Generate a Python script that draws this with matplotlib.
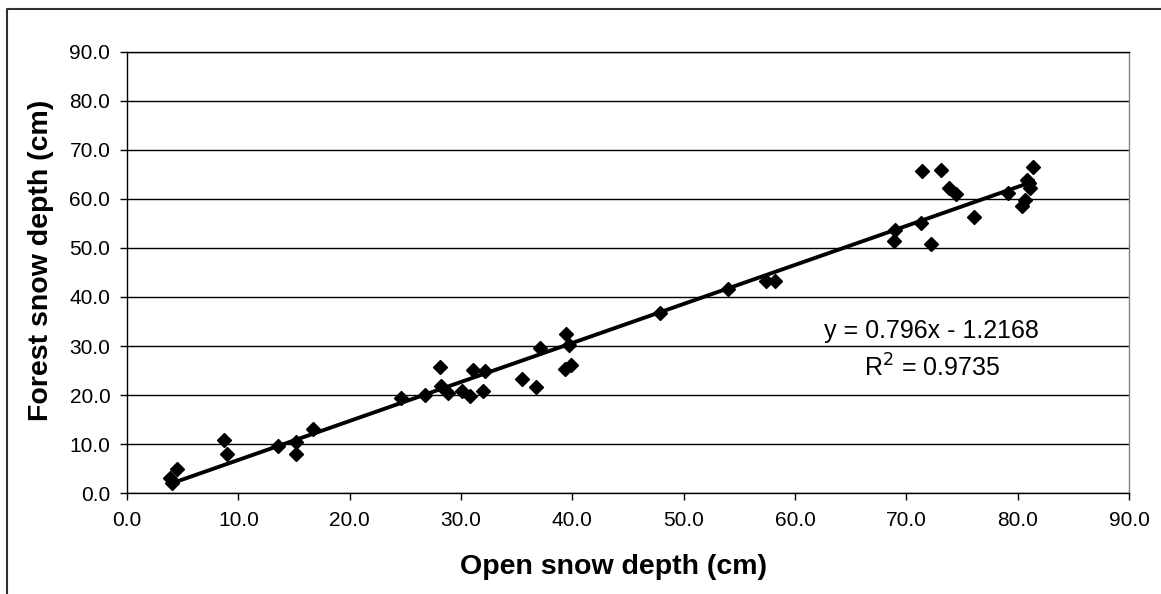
#!/usr/bin/env python3

import numpy as np
import matplotlib
matplotlib.use("Agg")
import matplotlib.pyplot as plt
from matplotlib.lines import Line2D

# open vs forest snow depth readings (cm)
open_depth = [3.9, 4.0, 4.5, 8.7, 9.0, 13.6, 15.2, 15.2, 16.7,
              24.6, 26.8, 28.1, 28.2, 28.8, 30.1, 30.8, 31.1, 32.0, 32.2,
              35.5, 36.7, 37.1, 39.4, 39.7, 39.3, 39.9,
              47.9, 54.0, 57.4, 58.2,
              69.0, 68.9, 71.3, 71.4, 72.2, 73.1, 73.8, 74.5, 76.1,
              79.1, 80.4, 80.7, 80.8, 81.0, 81.1, 81.4]
forest_depth = [3.0, 2.0, 5.0, 10.9, 8.0, 9.6, 10.5, 7.9, 13.0,
                19.3, 20.1, 25.8, 21.8, 20.5, 20.8, 19.9, 25.2, 20.9, 24.9,
                23.3, 21.6, 29.5, 32.4, 30.3, 25.4, 26.1,
                36.7, 41.6, 43.3, 43.3,
                53.7, 51.5, 55.0, 65.7, 50.8, 65.9, 62.2, 61.0, 56.3,
                61.3, 58.6, 59.8, 63.9, 63.2, 62.2, 66.6]

slope = 0.796
intercept = -1.2168
r_squared = 0.9735

ticks = [0, 10, 20, 30, 40, 50, 60, 70, 80, 90]

FONT = ["Liberation Sans", "DejaVu Sans"]


def make_chart():
    plt.rcParams["font.family"] = FONT
    fig = plt.figure(figsize=(11.61, 5.94), dpi=100)
    ax = fig.add_axes([0.1094, 0.170, 0.8630, 0.7425])

    ax.set_xlim(0, 90)
    ax.set_ylim(0, 90)
    ax.set_xticks(ticks)
    ax.set_yticks(ticks)
    ax.set_xticklabels([f"{t:.1f}" for t in ticks], fontsize=15)
    ax.set_yticklabels([f"{t:.1f}" for t in ticks], fontsize=15)
    ax.tick_params(axis="both", direction="out", length=5, width=1, color="black")
    ax.tick_params(axis="x", pad=8)
    ax.tick_params(axis="y", pad=7)
    ax.yaxis.grid(True, color="black", linewidth=1)
    ax.set_axisbelow(True)

    for side in ["left", "bottom", "top"]:
        ax.spines[side].set_color("black")
        ax.spines[side].set_linewidth(1)
    ax.spines["right"].set_color("#808080")
    ax.spines["right"].set_linewidth(1)

    # trend line over the data range
    xs = np.array([min(open_depth), max(open_depth)])
    ax.plot(xs, slope * xs + intercept, color="black", linewidth=2.8, zorder=3)

    ax.plot(open_depth, forest_depth, linestyle="none", marker="D",
            markersize=7.3, color="black", zorder=4)

    ax.text(72.3, 31.6, f"y = {slope}x - {abs(intercept)}", fontsize=18,
            ha="center", va="baseline")
    ax.text(72.3, 23.7, f"R$^2$ = {r_squared}", fontsize=18,
            ha="center", va="baseline")

    ax.set_xlabel("Open snow depth (cm)", fontsize=20.5, fontweight="bold")
    ax.xaxis.label.set_va("center")
    ax.xaxis.set_label_coords(0.486, -74 / 441)
    ax.set_ylabel("Forest snow depth (cm)", fontsize=20.5, fontweight="bold")
    ax.yaxis.label.set_va("center")
    ax.yaxis.set_label_coords(-86 / 1002, 0.528)

    # outer chart frame (only top and left edges visible)
    x0 = 7 / 1161
    y0 = 1 - 9 / 594
    fig.add_artist(Line2D([x0, x0, 1.0], [0.0, y0, y0], transform=fig.transFigure,
                          color="#303030", linewidth=1.5))
    return fig


if __name__ == "__main__":
    fig = make_chart()
    fig.savefig("out.png", dpi=100)
    plt.close()
